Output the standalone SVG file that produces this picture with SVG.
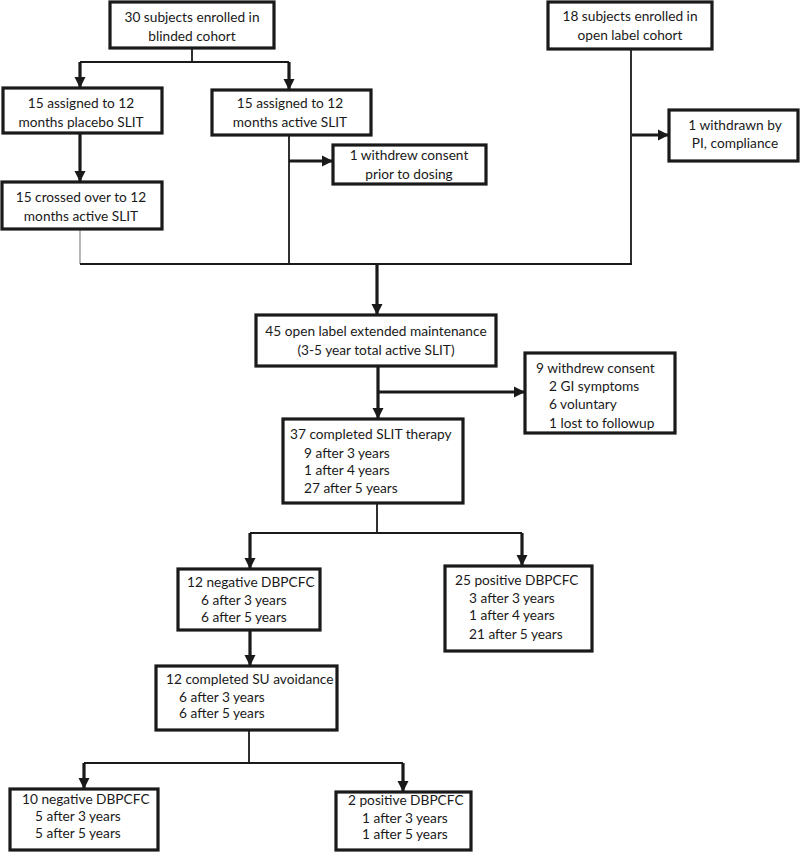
<svg xmlns="http://www.w3.org/2000/svg" width="800" height="852" viewBox="0 0 800 852">
<defs>
<marker id="ah" markerUnits="userSpaceOnUse" markerWidth="12" markerHeight="12" viewBox="0 0 12 12" refX="11" refY="6" orient="auto">
<path d="M0,0.5 L11,6 L0,11.5 z" fill="#1a1a1a"/>
</marker>
<style>
.box{fill:#fff;stroke:#1a1a1a;stroke-width:3.2}
text{font-family:Lato,"Open Sans","Liberation Sans",sans-serif;font-size:13.7px;fill:#1a1a1a}
.c{text-anchor:middle}
.ln{stroke:#1a1a1a;stroke-width:1.8;fill:none}
.ar{stroke:#1a1a1a;stroke-width:3.2;fill:none;marker-end:url(#ah)}
.gr{stroke:#888;stroke-width:1.2;fill:none}
</style>
</defs>
<rect width="800" height="852" fill="#fff"/>
<g id="connectors">
<path class="ln" d="M192,48 V62 M80,62 H289"/>
<path class="ar" d="M80,62 V88"/>
<path class="ar" d="M289,62 V90"/>
<path class="ar" d="M80,133 V182"/>
<path class="gr" d="M80,229 V264"/>
<path class="ln" d="M289,135 V264"/>
<path class="ar" d="M289,161 H333"/>
<path class="ln" d="M631,49 V264"/>
<path class="ar" d="M632,135 H669"/>
<path class="ln" d="M80,264 H632"/>
<path class="ar" d="M377,264 V315"/>
<path class="ar" d="M378,366 V419"/>
<path class="ar" d="M378,392 H525"/>
<path class="ln" d="M377,503 V533 M250,533 H522"/>
<path class="ar" d="M250,533 V569"/>
<path class="ar" d="M522,533 V566"/>
<path class="ar" d="M250,630 V666"/>
<path class="ln" d="M249,730 V763 M84,763 H403"/>
<path class="ar" d="M84,763 V789"/>
<path class="ar" d="M403,763 V792"/>
</g>
<g id="blinded">
<rect class="box" x="110" y="2" width="164" height="46"/>
<text class="c" x="192" y="22">30 subjects enrolled in</text>
<text class="c" x="192" y="41">blinded cohort</text>
</g>
<g id="openlabel">
<rect class="box" x="548" y="2" width="164" height="47"/>
<text class="c" x="630" y="21">18 subjects enrolled in</text>
<text class="c" x="630" y="40">open label cohort</text>
</g>
<g id="placebo">
<rect class="box" x="3" y="88" width="159" height="45"/>
<text class="c" x="81" y="108">15 assigned to 12</text>
<text class="c" x="81" y="127">months placebo SLIT</text>
</g>
<g id="active">
<rect class="box" x="212" y="90" width="159" height="45"/>
<text class="c" x="290" y="108">15 assigned to 12</text>
<text class="c" x="290" y="127">months active SLIT</text>
</g>
<g id="withdrew1">
<rect class="box" x="333" y="145" width="153" height="39"/>
<text class="c" x="409" y="160">1 withdrew consent</text>
<text class="c" x="409" y="179">prior to dosing</text>
</g>
<g id="withdrawnPI">
<rect class="box" x="669" y="110" width="129" height="51"/>
<text class="c" x="735" y="130">1 withdrawn by</text>
<text class="c" x="735" y="148">PI, compliance</text>
</g>
<g id="crossed">
<rect class="box" x="2" y="182" width="160" height="47"/>
<text class="c" x="81" y="202">15 crossed over to 12</text>
<text class="c" x="81" y="221">months active SLIT</text>
</g>
<g id="extended">
<rect class="box" x="256" y="315" width="240" height="51"/>
<text class="c" x="376" y="336">45 open label extended maintenance</text>
<text class="c" x="376" y="355">(3-5 year total active SLIT)</text>
</g>
<g id="withdrew9">
<rect class="box" x="525" y="353" width="150" height="80"/>
<text x="536" y="373">9 withdrew consent</text>
<text x="549" y="391">2 GI symptoms</text>
<text x="549" y="409">6 voluntary</text>
<text x="549" y="428">1 lost to followup</text>
</g>
<g id="completed37">
<rect class="box" x="283" y="419" width="180" height="84"/>
<text x="290" y="439">37 completed SLIT therapy</text>
<text x="304" y="458">9 after 3 years</text>
<text x="304" y="475">1 after 4 years</text>
<text x="304" y="493">27 after 5 years</text>
</g>
<g id="neg12">
<rect class="box" x="178" y="569" width="142" height="61"/>
<text x="187" y="587">12 negative DBPCFC</text>
<text x="201" y="605">6 after 3 years</text>
<text x="201" y="622">6 after 5 years</text>
</g>
<g id="pos25">
<rect class="box" x="445" y="566" width="147" height="85"/>
<text x="455" y="585">25 positive DBPCFC</text>
<text x="469" y="603">3 after 3 years</text>
<text x="469" y="620">1 after 4 years</text>
<text x="469" y="639">21 after 5 years</text>
</g>
<g id="su12">
<rect class="box" x="156" y="666" width="181" height="64"/>
<text x="166" y="684">12 completed SU avoidance</text>
<text x="179" y="702">6 after 3 years</text>
<text x="179" y="718">6 after 5 years</text>
</g>
<g id="neg10">
<rect class="box" x="10" y="789" width="148" height="61"/>
<text x="22" y="804">10 negative DBPCFC</text>
<text x="35" y="821">5 after 3 years</text>
<text x="35" y="838">5 after 5 years</text>
</g>
<g id="pos2">
<rect class="box" x="336" y="792" width="135" height="58"/>
<text x="348" y="805">2 positive DBPCFC</text>
<text x="362" y="823">1 after 3 years</text>
<text x="362" y="839">1 after 5 years</text>
</g>
</svg>
